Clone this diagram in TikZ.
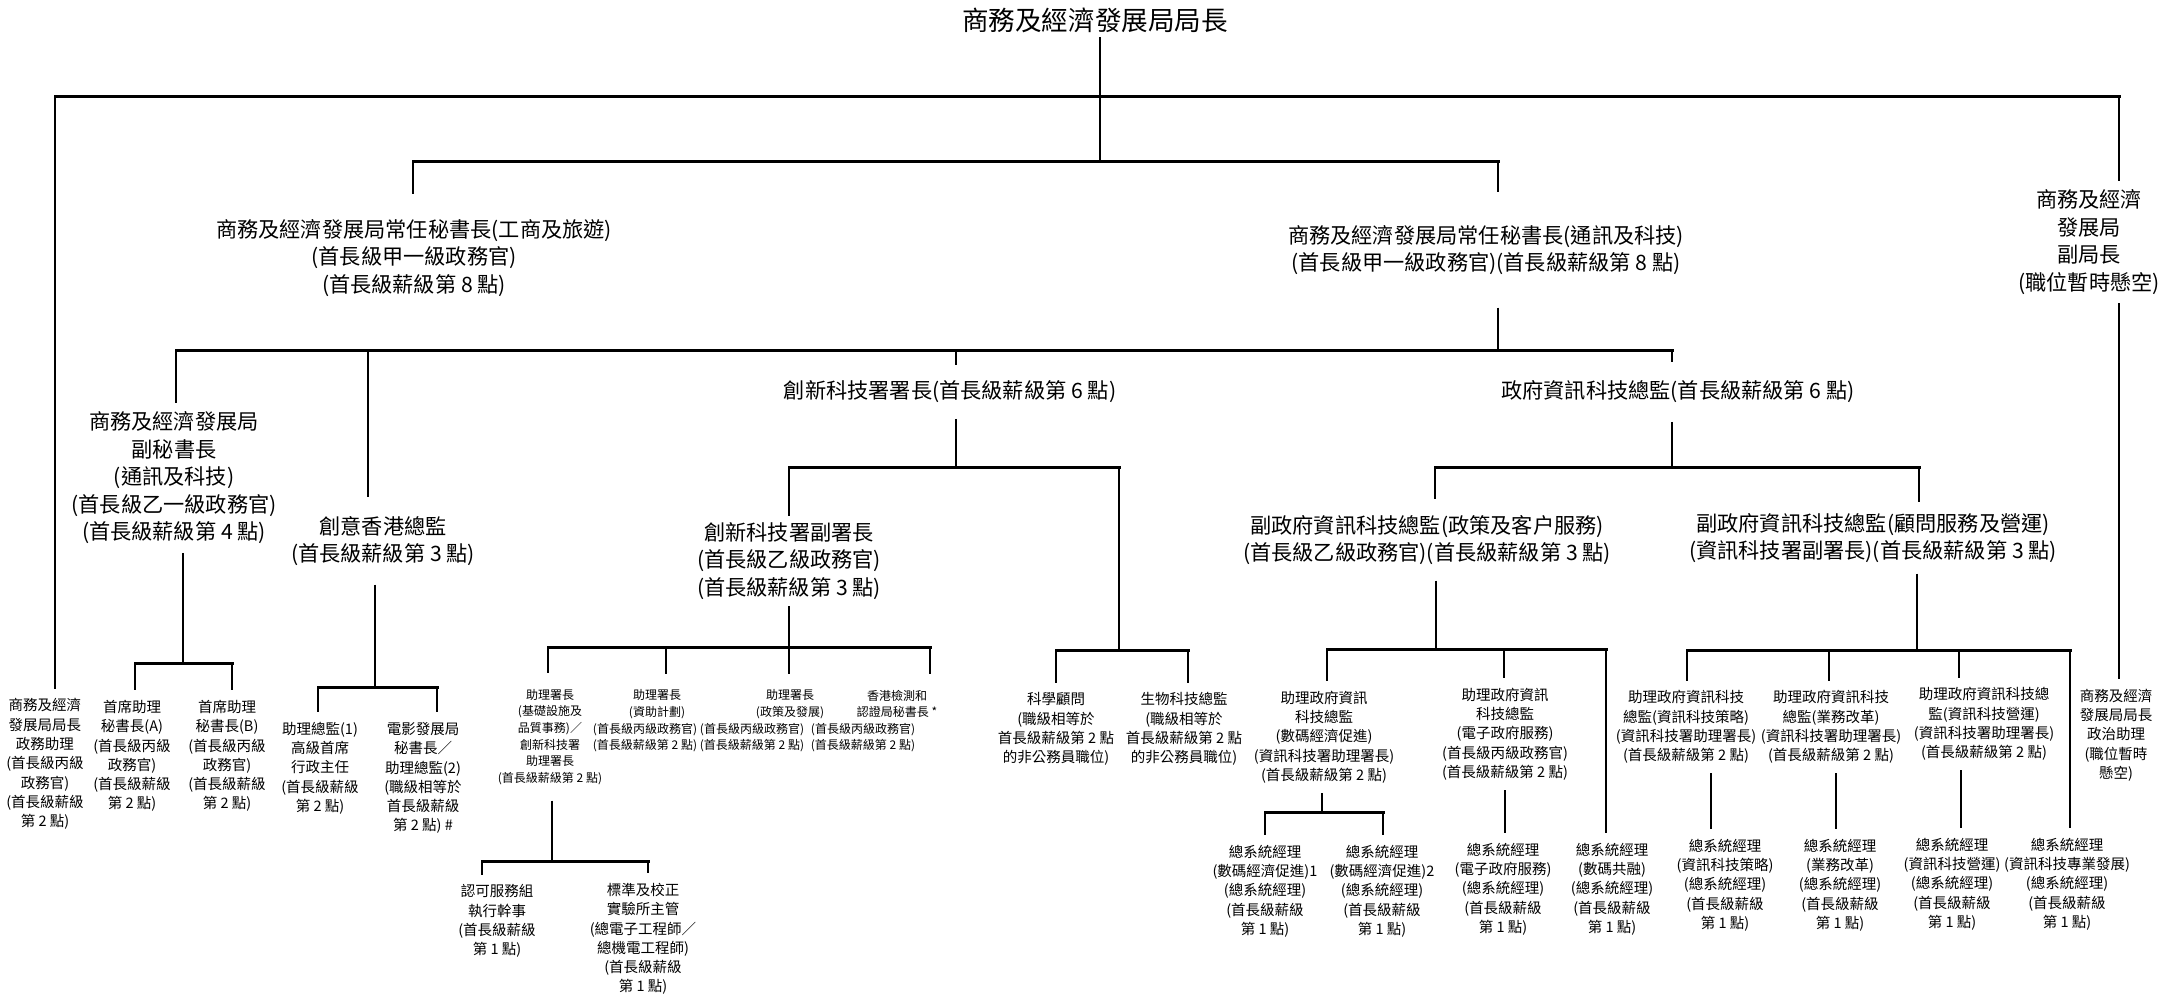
\documentclass[tikz,border=0pt]{standalone}
\usepackage{fontspec}
\setmainfont{Noto Sans CJK TC}
\begin{document}
\begin{tikzpicture}[x=1pt, y=-1pt, line width=1.8pt,
  bar/.style={line width=3pt, line cap=rect},
  head/.style={font=\fontsize{26.6}{32}\selectfont, inner sep=4pt},
  big/.style={align=center, font=\fontsize{21.2}{27.5}\selectfont, inner sep=10pt},
  small/.style={align=center, font=\fontsize{14.5}{19.3}\selectfont, inner sep=9pt},
  tiny/.style={align=center, font=\fontsize{12}{16.6}\selectfont, inner sep=15pt}]
\useasboundingbox (0,0) rectangle (2161,997);

\node[head] (0) at (1095,20) {商務及經濟發展局局長};
\node[big, inner sep=25pt] (1) at (414,258) {商務及經濟發展局常任秘書長(工商及旅遊)\\(首長級甲一級政務官)\\(首長級薪級第 8 點)};
\node[big, inner sep=32pt] (2) at (1486,250) {商務及經濟發展局常任秘書長(通訊及科技)\\(首長級甲一級政務官)(首長級薪級第 8 點)};
\node[big, inner sep=8pt] (3) at (2089,242) {商務及經濟\\發展局\\副局長\\(職位暫時懸空)};
\node[small] (4) at (45,764) {商務及經濟\\發展局局長\\政務助理\\(首長級丙級\\政務官)\\(首長級薪級\\第 2 點)};
\node[small] (5) at (2116,735) {商務及經濟\\發展局局長\\政治助理\\(職位暫時\\懸空)};

\node[big, inner sep=8pt] (21) at (174,478) {商務及經濟發展局\\副秘書長\\(通訊及科技)\\(首長級乙一級政務官)\\(首長級薪級第 4 點)};
\node[big, inner sep=18pt] (22) at (383,541) {創意香港總監\\(首長級薪級第 3 點)};
\node[big, inner sep=15pt] (23) at (950,392) {創新科技署署長(首長級薪級第 6 點)};
\node[big, inner sep=18pt] (24) at (1678,392) {政府資訊科技總監(首長級薪級第 6 點)};

\node[small] (211) at (132,756) {首席助理\\秘書長(A)\\(首長級丙級\\政務官)\\(首長級薪級\\第 2 點)};
\node[small] (212) at (227,756) {首席助理\\秘書長(B)\\(首長級丙級\\政務官)\\(首長級薪級\\第 2 點)};
\node[small] (221) at (320,768) {助理總監(1)\\高級首席\\行政主任\\(首長級薪級\\第 2 點)};
\node[small] (222) at (423,778) {電影發展局\\秘書長／\\助理總監(2)\\(職級相等於\\首長級薪級\\第 2 點) \#};

\node[big, inner sep=6pt] (231) at (789,561) {創新科技署副署長\\(首長級乙級政務官)\\(首長級薪級第 3 點)};
\node[small] (232) at (1056,729) {科學顧問\\(職級相等於\\首長級薪級第 2 點\\的非公務員職位)};
\node[small] (233) at (1184,729) {生物科技總監\\(職級相等於\\首長級薪級第 2 點\\的非公務員職位)};

\node[tiny] (2311) at (550,737) {助理署長\\(基礎設施及\\品質事務)／\\創新科技署\\助理署長\\(首長級薪級第 2 點)};
\node[tiny] (2312) at (657,721) {助理署長\\(資助計劃)\\(首長級丙級政務官)\kern24pt\\(首長級薪級第 2 點)\kern24pt};
\node[tiny] (2313) at (790,721) {助理署長\\(政策及發展)\\(首長級丙級政務官)\kern76pt\\(首長級薪級第 2 點)\kern76pt};
\node[tiny] (2314) at (897,721) {香港檢測和\\認證局秘書長 *\\(首長級丙級政務官)\kern68pt\\(首長級薪級第 2 點)\kern68pt};
\node[small] (23111) at (497,921) {認可服務組\\執行幹事\\(首長級薪級\\第 1 點)};
\node[small] (23112) at (643,939) {標準及校正\\實驗所主管\\(總電子工程師／\\總機電工程師)\\(首長級薪級\\第 1 點)};

\node[big, inner sep=15pt] (241) at (1427,540) {副政府資訊科技總監(政策及客户服務)\\(首長級乙級政務官)(首長級薪級第 3 點)};
\node[big, inner sep=10pt] (242) at (1873,538) {副政府資訊科技總監(顧問服務及營運)\\(資訊科技署副署長)(首長級薪級第 3 點)};

\node[small] (2411) at (1324,737) {助理政府資訊\\科技總監\\(數碼經濟促進)\\(資訊科技署助理署長)\\(首長級薪級第 2 點)};
\node[small] (2412) at (1505,734) {助理政府資訊\\科技總監\\(電子政府服務)\\(首長級丙級政務官)\\(首長級薪級第 2 點)};
\node[small] (2413) at (1612,889) {總系統經理\\(數碼共融)\\(總系統經理)\\(首長級薪級\\第 1 點)};
\node[small] (24111) at (1265,891) {總系統經理\\(數碼經濟促進)1\\(總系統經理)\\(首長級薪級\\第 1 點)};
\node[small] (24112) at (1382,891) {總系統經理\\(數碼經濟促進)2\\(總系統經理)\\(首長級薪級\\第 1 點)};
\node[small] (24121) at (1503,889) {總系統經理\\(電子政府服務)\\(總系統經理)\\(首長級薪級\\第 1 點)};

\node[small] (2421) at (1686,727) {助理政府資訊科技\\總監(資訊科技策略)\\(資訊科技署助理署長)\\(首長級薪級第 2 點)};
\node[small] (2422) at (1831,727) {助理政府資訊科技\\總監(業務改革)\\(資訊科技署助理署長)\\(首長級薪級第 2 點)};
\node[small] (2423) at (1984,724) {助理政府資訊科技總\\監(資訊科技營運)\\(資訊科技署助理署長)\\(首長級薪級第 2 點)};
\node[small] (2424) at (2067,884) {總系統經理\\(資訊科技專業發展)\\(總系統經理)\\(首長級薪級\\第 1 點)};
\node[small] (24211) at (1725,885) {總系統經理\\(資訊科技策略)\\(總系統經理)\\(首長級薪級\\第 1 點)};
\node[small] (24221) at (1840,885) {總系統經理\\(業務改革)\\(總系統經理)\\(首長級薪級\\第 1 點)};
\node[small] (24231) at (1952,884) {總系統經理\\(資訊科技營運)\\(總系統經理)\\(首長級薪級\\第 1 點)};

\coordinate (j0) at (1100,96);
\coordinate (k0) at (1100,161);
\coordinate (l1) at (413,161);
\coordinate (l2) at (1498,161);
\coordinate (l4) at (55,96);
\coordinate (l5) at (2119,96);
\draw (0.south -| j0) -- (k0);
\draw[bar] (l4) -- (l5);
\draw[bar] (l1) -- (l2);
\draw (l1) -- (l1 |- 1.north);
\draw (l2) -- (l2 |- 2.north);
\draw (l4) -- (l4 |- 4.north);
\draw (l5) -- (l5 |- 3.north);
\draw (3.south -| l5) -- (l5 |- 5.north);

\coordinate (j2) at (1498,350);
\coordinate (l21) at (176,350);
\coordinate (l22) at (368,350);
\coordinate (l23) at (956,350);
\coordinate (l24) at (1672,350);
\draw (2.south -| j2) -- (j2);
\draw[bar] (l21) -- (l24);
\draw (l21) -- (l21 |- 21.north);
\draw (l22) -- (l22 |- 22.north);
\draw (l23) -- (l23 |- 23.north);
\draw (l24) -- (l24 |- 24.north);

\coordinate (j21) at (183,663);
\coordinate (l211) at (135,663);
\coordinate (l212) at (232,663);
\draw (21.south -| j21) -- (j21);
\draw[bar] (l211) -- (l212);
\draw (l211) -- (l211 |- 211.north);
\draw (l212) -- (l212 |- 212.north);

\coordinate (j22) at (375,687);
\coordinate (l221) at (318,687);
\coordinate (l222) at (437,687);
\draw (22.south -| j22) -- (j22);
\draw[bar] (l221) -- (l222);
\draw (l221) -- (l221 |- 221.north);
\draw (l222) -- (l222 |- 222.north);

\coordinate (j23) at (956,467);
\coordinate (l231) at (789,467);
\coordinate (k23) at (1119,467);
\coordinate (m23) at (1119,650);
\coordinate (l232) at (1056,650);
\coordinate (l233) at (1188,650);
\draw (23.south -| j23) -- (j23);
\draw[bar] (l231) -- (k23);
\draw (l231) -- (l231 |- 231.north);
\draw (k23) -- (m23);
\draw[bar] (l232) -- (l233);
\draw (l232) -- (l232 |- 232.north);
\draw (l233) -- (l233 |- 233.north);

\coordinate (j231) at (789,647);
\coordinate (l2311) at (548,647);
\coordinate (l2312) at (666,647);
\coordinate (l2313) at (789,647);
\coordinate (l2314) at (930,647);
\draw (231.south -| j231) -- (j231);
\draw[bar] (l2311) -- (l2314);
\draw (l2311) -- (l2311 |- 2311.north);
\draw (l2312) -- (l2312 |- 2312.north);
\draw (l2313) -- (l2313 |- 2313.north);
\draw (l2314) -- (l2314 |- 2314.north);

\coordinate (j2311) at (552,861);
\coordinate (l23111) at (482,861);
\coordinate (l23112) at (648,861);
\draw (2311.south -| j2311) -- (j2311);
\draw[bar] (l23111) -- (l23112);
\draw (l23111) -- (l23111 |- 23111.north);
\draw (l23112) -- (l23112 |- 23112.north);

\coordinate (j24) at (1672,467);
\coordinate (l241) at (1435,467);
\coordinate (l242) at (1919,467);
\draw (24.south -| j24) -- (j24);
\draw[bar] (l241) -- (l242);
\draw (l241) -- (l241 |- 241.north);
\draw (l242) -- (l242 |- 242.north);

\coordinate (j241) at (1436,649);
\coordinate (l2411) at (1327,649);
\coordinate (l2412) at (1504,649);
\coordinate (l2413) at (1606,649);
\draw (241.south -| j241) -- (j241);
\draw[bar] (l2411) -- (l2413);
\draw (l2411) -- (l2411 |- 2411.north);
\draw (l2412) -- (l2412 |- 2412.north);
\draw (l2413) -- (l2413 |- 2413.north);

\coordinate (j2411) at (1322,812);
\coordinate (l24111) at (1265,812);
\coordinate (l24112) at (1383,812);
\draw (2411.south -| j2411) -- (j2411);
\draw[bar] (l24111) -- (l24112);
\draw (l24111) -- (l24111 |- 24111.north);
\draw (l24112) -- (l24112 |- 24112.north);
\draw (2412.south) -- (2412.south |- 24121.north);

\coordinate (j242) at (1917,650);
\coordinate (l2421) at (1687,650);
\coordinate (l2422) at (1829,650);
\coordinate (l2423) at (1959,650);
\coordinate (l2424) at (2070,650);
\draw (242.south -| j242) -- (j242);
\draw[bar] (l2421) -- (l2424);
\draw (l2421) -- (l2421 |- 2421.north);
\draw (l2422) -- (l2422 |- 2422.north);
\draw (l2423) -- (l2423 |- 2423.north);
\draw (l2424) -- (l2424 |- 2424.north);

\coordinate (j2421) at (1711,830);
\coordinate (j2422) at (1836,830);
\coordinate (j2423) at (1961,830);
\draw (2421.south -| j2421) -- (j2421 |- 24211.north);
\draw (2422.south -| j2422) -- (j2422 |- 24221.north);
\draw (2423.south -| j2423) -- (j2423 |- 24231.north);
\end{tikzpicture}
\end{document}
